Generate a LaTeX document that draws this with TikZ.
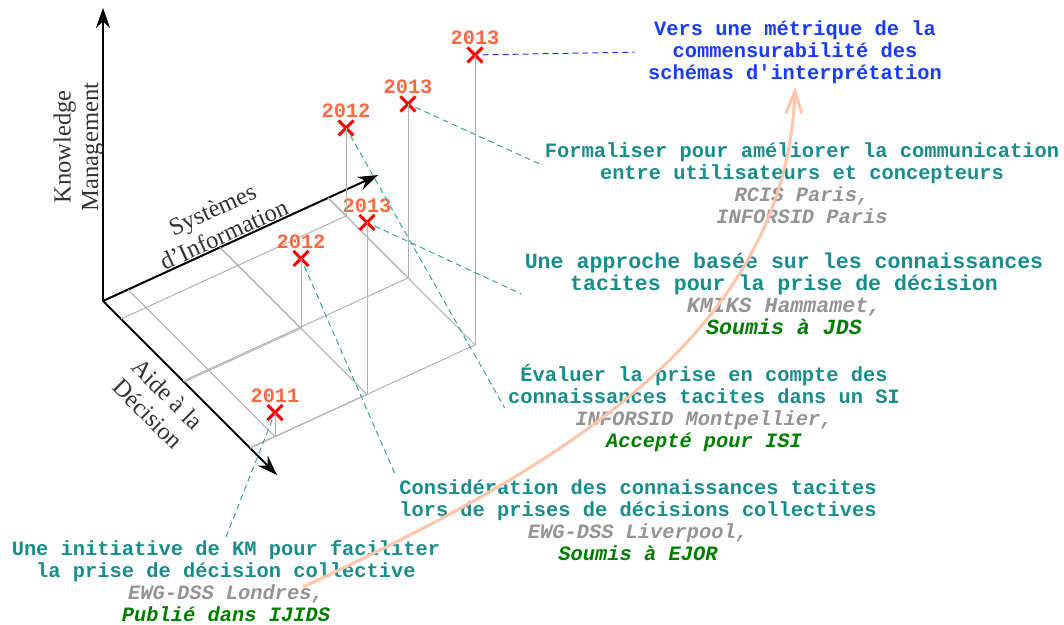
\documentclass[tikz,border=0pt]{standalone}
\usepackage{fontspec}
\setmainfont{Liberation Serif}
\setmonofont{Liberation Mono}
\usepackage{tikz}
\usetikzlibrary{shapes,arrows,arrows.meta}
\usetikzlibrary{positioning}
\definecolor{tealtxt}{RGB}{25,140,140}
\definecolor{tealdash}{RGB}{60,160,160}
\definecolor{greytxt}{RGB}{148,148,148}
\definecolor{greentxt}{RGB}{0,125,0}
\definecolor{bluetxt}{RGB}{25,60,250}
\definecolor{yearcol}{RGB}{255,105,65}
\definecolor{peach}{RGB}{255,196,170}
\tikzstyle{axe} = [line width=1pt,-{Stealth[length=10pt,width=7pt]}]
\tikzstyle{axislabel} = [font=\fontsize{12.3}{13.8}\selectfont, text=black!80, align=center]
\tikzstyle{floorline} = [draw=black!30, line width=0.5pt]
\tikzstyle{point} = [cross out, draw=red, line width=1.5pt, minimum size=6pt, inner sep=0pt]
\tikzstyle{year} = [font=\ttfamily\bfseries\fontsize{10.2}{11}\selectfont, text=yearcol, inner sep=1pt]
\tikzstyle{paper} = [
    align=center, inner sep=1.5pt, text=tealtxt,
    font=\ttfamily\bfseries\fontsize{10.2}{11}\selectfont]
\tikzstyle{link} = [draw=tealdash, line width=0.5pt, dash pattern=on 3pt off 2pt]
\tikzstyle{trend} = [draw=peach, line width=1.5pt, -{Straight Barb[length=11pt,width=8pt]}]
\newcommand{\venue}[1]{{\itshape\color{greytxt}#1}}
\newcommand{\status}[1]{{\itshape\color{greentxt}#1}}

\begin{document}
\begin{tikzpicture}[x={(5pt,2.29pt)}, y={(0pt,5pt)}, z={(5pt,-5pt)}]
\useasboundingbox (-51.5pt,-162pt) rectangle (480.5pt,150.5pt);

% axes
\coordinate (O) at (0,0,0);
\coordinate (km) at (0,29.3,0);
\coordinate (si) at (27.5,0,0);
\coordinate (ad) at (0,0,17.4);
\draw [axe] (O) -- (km);
\draw [axe] (O) -- (si);
\draw [axe] (O) -- (ad);

\node (km-lbl) [axislabel, rotate=90] at (-12.25pt,77pt) {Knowledge\\Management};
\node (si-lbl) [axislabel, rotate=24.6] at (57.5pt,39.5pt) {Systèmes\\d'Information};
\node (ad-lbl) [axislabel, rotate=-45] at (27.5pt,-51.5pt) {Aide à la\\Décision};

% feet on the floor
\coordinate (f11) at (2.5,0,14.7);
\coordinate (f12a) at (11.7,0,8.1);
\coordinate (f12b) at (22.5,0,1.8);
\coordinate (f13a) at (11.7,0,14.7);
\coordinate (f13b) at (22.5,0,8.0);
\coordinate (f13c) at (22.5,0,14.7);

\draw [floorline] (2.5,0,0) -- (f11) -- (0,0,14.7);
\draw [floorline] (11.7,0,0) -- (f12a) -- (0,0,8.1);
\draw [floorline] (22.5,0,0) -- (f12b) -- (0,0,1.8);
\draw [floorline] (11.7,0,0) -- (f13a) -- (0,0,14.7);
\draw [floorline] (22.5,0,0) -- (f13b) -- (0,0,8.0);
\draw [floorline] (22.5,0,0) -- (f13c) -- (0,0,14.7);

% trend
\coordinate (start) at (100pt,-143pt);

% papers
\node (vers) [paper, text=bluetxt] at (346pt,124.5pt) {
    Vers une métrique de la\\
    commensurabilité des\\
    schémas d'interprétation};
\node (form) [paper] at (349.5pt,59pt) {
    Formaliser pour améliorer la communication\\
    entre utilisateurs et concepteurs\\
    \venue{RCIS Paris,}\\
    \venue{INFORSID Paris}};
\node (appr) [paper, font=\ttfamily\bfseries\fontsize{10.8}{11}\selectfont] at (340.5pt,3.5pt) {
    Une approche basée sur les connaissances\\
    tacites pour la prise de décision\\
    \venue{KMIKS Hammamet,}\\
    \status{Soumis à JDS}};
\node (eval) [paper] at (300.5pt,-53.5pt) {
    Évaluer la prise en compte des\\
    connaissances tacites dans un SI\\
    \venue{INFORSID Montpellier,}\\
    \status{Accepté pour ISI}};
\node (cons) [paper] at (267.5pt,-109.5pt) {
    Considération des connaissances tacites\\
    lors de prises de décisions collectives\\
    \venue{EWG-DSS Liverpool,}\\
    \status{Soumis à EJOR}};
\node (init) [paper] at (61.5pt,-140pt) {
    Une initiative de KM pour faciliter\\
    la prise de décision collective\\
    \venue{EWG-DSS Londres,}\\
    \status{Publié dans IJIDS}};

\draw [trend] (start) to[out=25,in=-92,out looseness=1.02,in looseness=0.91] (vers.south);

% publications
\node (p11) [point, label={[year]above:2011}] at (2.5,2.4,14.7) {};
\node (p12a) [point, label={[year]above:2012}] at (11.7,7.0,8.1) {};
\node (p12b) [point, label={[year]above:2012}] at (22.5,8.8,1.8) {};
\node (p13a) [point, label={[year]above:2013}] at (11.7,17.2,14.7) {};
\node (p13b) [point, label={[year]above:2013}] at (22.5,17.4,8.0) {};
\node (p13c) [point, label={[year]above:2013}] at (22.5,29.0,14.7) {};

\draw [floorline] (f11) -- (p11.center);
\draw [floorline] (f12a) -- (p12a.center);
\draw [floorline] (f12b) -- (p12b.center);
\draw [floorline] (f13a) -- (p13a.center);
\draw [floorline] (f13b) -- (p13b.center);
\draw [floorline] (f13c) -- (p13c.center);

\draw [link] (p11) -- (init.north);
\draw [link] (p12a) -- (cons.north west);
\draw [link] (p12b) -- (eval.west);
\draw [link] (p13a) -- (appr.west);
\draw [link] (p13b) -- (form.176);
\draw [link, draw=bluetxt, shorten >=5pt] (p13c) -- (vers.west);
\end{tikzpicture}
\end{document}
